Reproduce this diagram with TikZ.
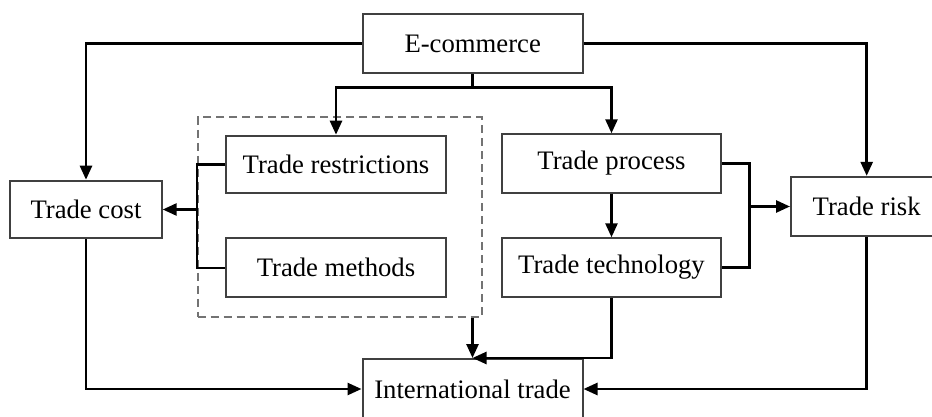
\documentclass[tikz,border=0pt]{standalone}
\usepackage{fontspec}
\setmainfont{Liberation Serif}
\usetikzlibrary{arrows.meta}

\tikzset{
  box/.style={draw=black!75, line width=2pt, fill=white, inner sep=0pt,
              font=\fontsize{26.7}{30}\selectfont},
  link/.style={draw=black, line width=2.6pt},
  arr/.style={link, -{Triangle[length=14pt,width=12pt]}},
  groupbox/.style={draw=black!55, line width=1.6pt, dash pattern=on 8pt off 5pt,
                   inner sep=0pt},
}

\begin{document}
\begin{tikzpicture}[x=1pt, y=-1pt]
  \clip (0,0) rectangle (932,417);
  \fill[white] (0,0) rectangle (932,417);

  % dashed frame around the restriction/method pair
  \node[groupbox, minimum width=284pt, minimum height=199.4pt] (grp) at (339.7,217) {};

  % boxes
  \node[box, minimum width=220pt, minimum height=59pt]   (ecom)  at (472.7,43.8)  {E-commerce};
  \node[box, minimum width=151.4pt, minimum height=57.6pt] (cost) at (86,209.5)   {Trade cost};
  \node[box, minimum width=220pt, minimum height=57.6pt] (restr) at (336,164.5)   {Trade restrictions};
  \node[box, minimum width=220pt, minimum height=59pt]   (meth)  at (336,267.8)   {Trade methods};
  \node[box, minimum width=219pt, minimum height=58.4pt] (proc)  at (611.5,163.5) {Trade process};
  \node[box, minimum width=219pt, minimum height=58.4pt] (tech)  at (611.5,267.5) {Trade technology};
  \node[box, minimum width=151.4pt, minimum height=59.3pt] (risk) at (866.7,206.5) {Trade risk};
  \node[box, minimum width=220pt, minimum height=60pt]   (intl)  at (472.5,389)   {International trade};

  % from E-commerce
  \draw[arr] (ecom.west) -| (cost.north);
  \draw[arr] (ecom.east) -| (risk.north);
  \draw[link] (ecom.south) -- ++(0,13.4) coordinate (split);
  \draw[arr] (split) -| (restr.north);
  \draw[arr] (split) -| (proc.north);

  % restrictions and methods joined into trade cost
  \coordinate (lj) at (cost.east -| grp.west);
  \draw[link] (restr.west) -- (restr.west -| grp.west) |- (meth.west);
  \draw[arr] (lj) -- (cost.east);

  % process and technology joined into trade risk
  \draw[arr] (proc.south) -- (tech.north);
  \coordinate (rj) at (749.3,206.5);
  \draw[link] (proc.east) -| (rj) |- (tech.east);
  \draw[arr] (rj) -- (risk.west);

  % into international trade
  \draw[arr] (intl.north |- grp.south) -- (intl.north);
  \draw[arr] (tech.south) |- (intl.north);
  \draw[arr] (cost.south) |- (intl.west);
  \draw[arr] (risk.south) |- (intl.east);
\end{tikzpicture}
\end{document}
